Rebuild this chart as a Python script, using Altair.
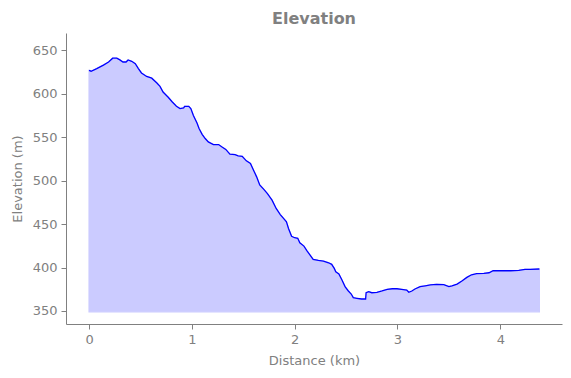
import altair as alt
import pandas as pd

distance_km = [0.0, 0.02, 0.075, 0.14, 0.19, 0.23, 0.27, 0.30, 0.33, 0.36, 0.38, 0.415, 0.45, 0.48, 0.51,
               0.56, 0.61, 0.66, 0.69, 0.72, 0.77, 0.81, 0.85, 0.885, 0.92, 0.93, 0.97, 0.99, 1.015, 1.05,
               1.07, 1.10, 1.13, 1.16, 1.21, 1.26, 1.29, 1.33, 1.37, 1.42, 1.45, 1.49, 1.53, 1.57, 1.60,
               1.63, 1.66, 1.70, 1.735, 1.78, 1.82, 1.86, 1.90, 1.92, 1.94, 1.97, 2.00, 2.03, 2.05, 2.09,
               2.12, 2.15, 2.18, 2.23, 2.28, 2.33, 2.36, 2.385, 2.40, 2.43, 2.46, 2.49, 2.52, 2.55, 2.57,
               2.605, 2.65, 2.69, 2.695, 2.72, 2.75, 2.80, 2.85, 2.90, 2.95, 2.995, 3.04, 3.09, 3.11, 3.14,
               3.17, 3.22, 3.27, 3.32, 3.38, 3.45, 3.50, 3.53, 3.58, 3.63, 3.675, 3.72, 3.77, 3.84, 3.89,
               3.93, 4.00, 4.10, 4.18, 4.24, 4.29, 4.38]
elevation_m = [627, 626, 629, 633, 636.6, 641, 641, 639, 636.6, 636.6, 639, 637.4, 634.7, 629, 624,
               620, 618, 612.4, 608.6, 602, 596, 590.6, 585.6, 583, 583.7, 585.6, 585.6, 583, 575, 566.4,
               560, 553.4, 548.5, 544.6, 541.6, 541.6, 539, 536, 530.5, 530, 528.5, 528, 522.8, 519.7, 512,
               504.4, 495, 490, 485, 477.6, 468, 461, 455.4, 452.7, 445, 436, 434.3, 433.6, 428.5, 424.7,
               419.3, 414.4, 409.4, 408.2, 407.5, 405.5, 403.7, 399, 395, 392.5, 385.6, 378, 373.3, 369.5, 365.3,
               364.6, 363.8, 363.8, 371, 372.2, 371, 371.5, 373, 374.9, 375.6, 375.6, 374.9, 374, 371.5, 373,
               375.3, 378, 379, 380, 380.6, 380.3, 378, 379, 381, 384.8, 388.7, 391.7, 392.9, 393.3, 394,
               396.3, 396.3, 396.3, 396.8, 398, 398, 398.3]
baseline_m = 349
x_ticks = [0, 1, 2, 3, 4]
y_ticks = [350, 400, 450, 500, 550, 600, 650]

df = pd.DataFrame({"d": distance_km, "e": elevation_m})
df["base"] = baseline_m

grey = "#808080"
font = "DejaVu Sans"

x = alt.X("d:Q", scale=alt.Scale(domain=[-0.224, 4.6], nice=False, zero=False),
          axis=alt.Axis(title="Distance (km)", values=x_ticks, format="d", grid=False,
                        domainColor=grey, tickColor=grey, labelColor=grey, titleColor=grey,
                        labelFont=font, titleFont=font, labelFontSize=13, titleFontSize=13,
                        titleFontWeight="normal", tickSize=5, labelPadding=4, titlePadding=8))
y = alt.Y("e:Q", scale=alt.Scale(domain=[335, 670], nice=False, zero=False),
          axis=alt.Axis(title="Elevation (m)", values=y_ticks, format="d", grid=False,
                        domainColor=grey, tickColor=grey, labelColor=grey, titleColor=grey,
                        labelFont=font, titleFont=font, labelFontSize=13, titleFontSize=13,
                        titleFontWeight="normal", tickSize=5, labelPadding=4, titlePadding=8))

area = alt.Chart(df).mark_area(color="#0000ff", opacity=0.2, stroke="#0000ff", strokeWidth=1.2,
                               interpolate="linear").encode(x=x, y=y, y2="base:Q")
line = alt.Chart(df).mark_line(color="#0000ff", strokeWidth=1.3).encode(x=x, y=y)

chart = (area + line).properties(
    width=496, height=291,
    background="white",
    title=alt.TitleParams("Elevation", font=font, fontSize=16, fontWeight="bold", color=grey,
                          anchor="middle", offset=6),
    autosize=alt.AutoSizeParams(type="none"),
    padding={"left": 66, "top": 33, "right": 9, "bottom": 54},
).configure_view(stroke=None, strokeWidth=0)

chart.save("out.html", embed_options={"renderer": "svg", "actions": False})
